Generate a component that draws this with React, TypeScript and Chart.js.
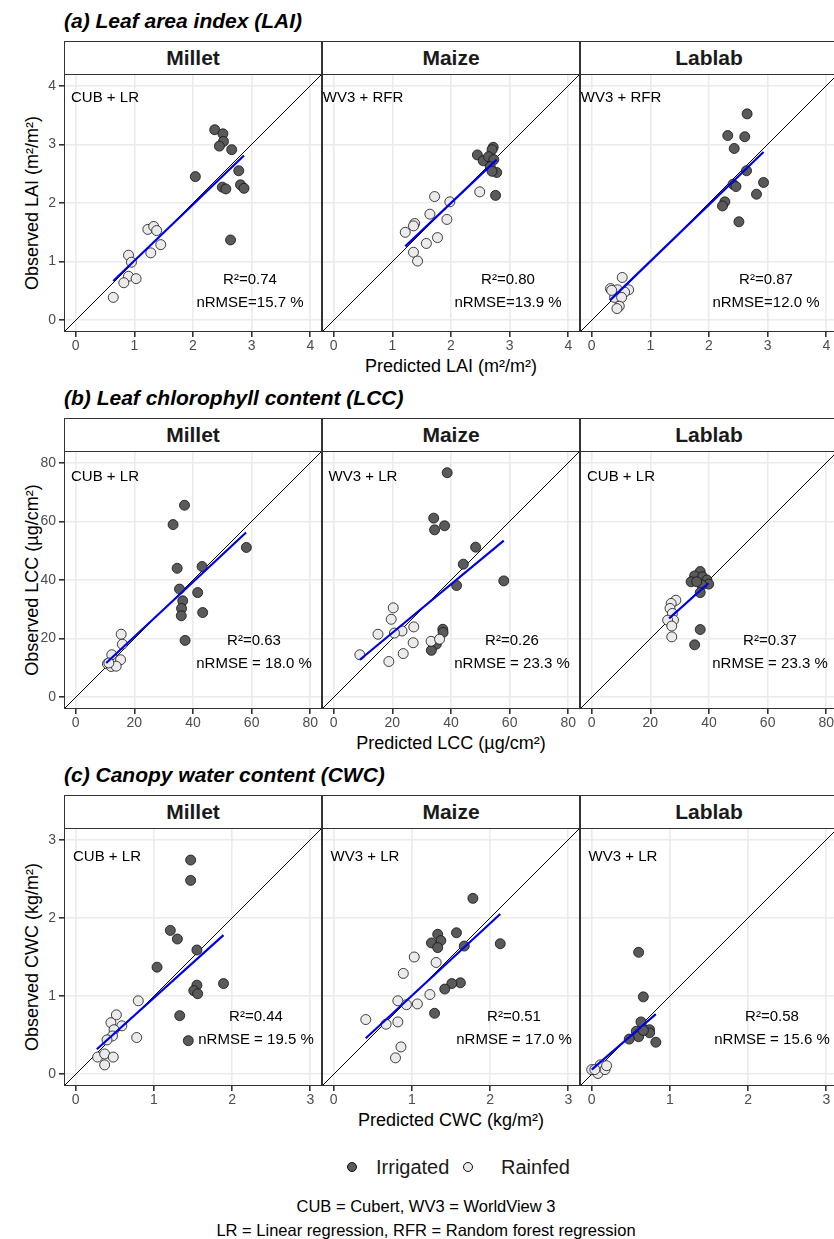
import React, { useEffect, useRef } from "react";
import { Chart, registerables } from "chart.js";

Chart.register(...registerables);

// ---------- labels ----------
const crops = ["Millet", "Maize", "Lablab"];
const rowTitles = [
  "(a) Leaf area index (LAI)",
  "(b) Leaf chlorophyll content (LCC)",
  "(c) Canopy water content (CWC)",
];
const xTitles = ["Predicted LAI (m²/m²)", "Predicted LCC (µg/cm²)", "Predicted CWC (kg/m²)"];
const yTitles = ["Observed LAI (m²/m²)", "Observed LCC (µg/cm²)", "Observed CWC (kg/m²)"];
const axisMin = [-0.2, -4, -0.15];
const axisMax = [4.2, 84, 3.15];
const tickValues = [
  [0, 1, 2, 3, 4],
  [0, 20, 40, 60, 80],
  [0, 1, 2, 3],
];
const methodLabels = [
  ["CUB + LR", "WV3 + RFR", "WV3 + RFR"],
  ["CUB + LR", "WV3 + LR", "CUB + LR"],
  ["CUB + LR", "WV3 + LR", "WV3 + LR"],
];
const r2Labels = [
  ["R²=0.74", "R²=0.80", "R²=0.87"],
  ["R²=0.63", "R²=0.26", "R²=0.37"],
  ["R²=0.44", "R²=0.51", "R²=0.58"],
];
const nrmseLabels = [
  ["nRMSE=15.7 %", "nRMSE=13.9 %", "nRMSE=12.0 %"],
  ["nRMSE = 18.0 %", "nRMSE = 23.3 %", "nRMSE = 23.3 %"],
  ["nRMSE = 19.5 %", "nRMSE = 17.0 %", "nRMSE = 15.6 %"],
];
const legendLabels = ["Irrigated", "Rainfed"];
const captionLines = [
  "CUB = Cubert, WV3 = WorldView 3",
  "LR = Linear regression, RFR = Random forest regression",
];

// ---------- data: [predicted, observed] ----------
const laiMilletIrr = [[2.37,3.25],[2.51,3.18],[2.52,3.05],[2.45,2.97],[2.66,2.91],[2.78,2.55],[2.04,2.45],[2.50,2.27],[2.56,2.24],[2.81,2.31],[2.87,2.25],[2.64,1.37]];
const laiMilletRain = [[1.23,1.55],[1.33,1.60],[1.38,1.53],[1.45,1.29],[1.28,1.15],[0.90,1.11],[0.95,0.99],[0.90,0.75],[1.03,0.71],[0.82,0.64],[0.64,0.39]];
const laiMilletFit = [[0.64,0.67],[2.87,2.81]];

const laiMaizeIrr = [[2.72,2.95],[2.70,2.91],[2.45,2.82],[2.55,2.72],[2.64,2.79],[2.73,2.74],[2.67,2.62],[2.78,2.52],[2.70,2.54],[2.76,2.13]];
const laiMaizeRain = [[2.49,2.19],[1.72,2.11],[1.98,2.02],[1.64,1.81],[1.93,1.72],[1.38,1.65],[1.36,1.61],[1.22,1.50],[1.77,1.41],[1.58,1.31],[1.36,1.16],[1.43,1.01]];
const laiMaizeFit = [[1.22,1.26],[2.78,2.74]];

const laiLablabIrr = [[2.65,3.52],[2.32,3.15],[2.61,3.13],[2.43,2.93],[2.64,2.55],[2.41,2.32],[2.46,2.28],[2.93,2.35],[2.81,2.15],[2.27,2.02],[2.23,1.95],[2.51,1.68]];
const laiLablabRain = [[0.52,0.73],[0.32,0.54],[0.44,0.52],[0.63,0.52],[0.56,0.48],[0.39,0.39],[0.51,0.39],[0.47,0.24],[0.43,0.20],[0.34,0.51]];
const laiLablabFit = [[0.31,0.34],[2.93,2.87]];

const lccMilletIrr = [[37.1,65.5],[33.2,58.9],[58.2,51.1],[34.6,44.0],[43.1,44.6],[35.4,36.9],[41.6,35.7],[36.5,32.9],[36.1,30.3],[36.0,27.8],[43.3,28.9],[37.3,19.4]];
const lccMilletRain = [[15.5,21.5],[15.9,18.1],[12.3,14.5],[15.3,12.8],[10.8,11.4],[12.1,10.5],[13.8,10.6],[11.3,11.7]];
const lccMilletFit = [[10.4,11.7],[58.1,56.2]];

const lccMaizeIrr = [[38.7,76.6],[34.1,61.1],[34.4,57.1],[37.8,58.5],[48.4,51.2],[44.2,45.4],[41.9,38.1],[58.0,39.7],[37.2,23.2],[37.3,22.1],[35.0,18.1],[33.3,16.0]];
const lccMaizeRain = [[20.3,30.5],[19.6,26.6],[27.3,24.0],[23.3,22.6],[20.7,21.9],[15.1,21.5],[27.1,18.6],[33.2,19.1],[36.1,19.8],[23.7,14.9],[8.9,14.5],[18.8,12.2]];
const lccMaizeFit = [[8.9,12.8],[58.0,53.4]];

const lccLablabIrr = [[37.0,42.9],[35.1,41.4],[37.8,41.1],[33.9,39.4],[39.3,40.0],[39.9,38.6],[37.6,38.3],[37.0,35.7],[37.0,23.1],[35.1,17.9],[35.8,39.4]];
const lccLablabRain = [[28.7,33.1],[27.1,32.0],[26.7,30.3],[27.5,28.6],[27.9,26.3],[25.9,26.3],[27.3,24.3],[27.3,20.6]];
const lccLablabFit = [[26.4,26.9],[39.8,38.9]];

const cwcMilletIrr = [[1.47,2.74],[1.47,2.48],[1.21,1.84],[1.30,1.73],[1.55,1.59],[1.04,1.37],[1.89,1.16],[1.55,1.14],[1.51,1.07],[1.56,1.03],[1.33,0.75],[1.44,0.43]];
const cwcMilletRain = [[0.80,0.94],[0.52,0.76],[0.45,0.66],[0.59,0.62],[0.49,0.57],[0.47,0.49],[0.78,0.47],[0.40,0.44],[0.28,0.22],[0.37,0.26],[0.48,0.22],[0.37,0.12]];
const cwcMilletFit = [[0.27,0.32],[1.89,1.78]];

const cwcMaizeIrr = [[1.78,2.25],[1.33,1.79],[1.57,1.81],[1.37,1.71],[1.25,1.68],[1.33,1.62],[1.67,1.64],[2.13,1.67],[1.62,1.17],[1.51,1.16],[1.42,1.09],[1.29,0.78]];
const cwcMaizeRain = [[1.03,1.50],[1.31,1.43],[0.89,1.29],[1.23,1.02],[0.82,0.94],[0.93,0.89],[1.07,0.90],[0.41,0.70],[0.67,0.64],[0.82,0.67],[0.86,0.35],[0.79,0.21]];
const cwcMaizeFit = [[0.41,0.46],[2.13,2.05]];

const cwcLablabIrr = [[0.60,1.56],[0.66,0.99],[0.63,0.67],[0.57,0.55],[0.68,0.57],[0.74,0.57],[0.74,0.53],[0.60,0.48],[0.48,0.45],[0.82,0.41],[0.66,0.56]];
const cwcLablabRain = [[0.00,0.06],[0.08,0.01],[0.11,0.12],[0.17,0.06],[0.19,0.11],[0.04,0.06]];
const cwcLablabFit = [[0.00,0.06],[0.82,0.77]];

const irrigatedData = [
  [laiMilletIrr, laiMaizeIrr, laiLablabIrr],
  [lccMilletIrr, lccMaizeIrr, lccLablabIrr],
  [cwcMilletIrr, cwcMaizeIrr, cwcLablabIrr],
];
const rainfedData = [
  [laiMilletRain, laiMaizeRain, laiLablabRain],
  [lccMilletRain, lccMaizeRain, lccLablabRain],
  [cwcMilletRain, cwcMaizeRain, cwcLablabRain],
];
const fitData = [
  [laiMilletFit, laiMaizeFit, laiLablabFit],
  [lccMilletFit, lccMaizeFit, lccLablabFit],
  [cwcMilletFit, cwcMaizeFit, cwcLablabFit],
];

// ---------- layout / style ----------
const FONT = '"Liberation Sans", Arial, Helvetica, sans-serif';
const PANEL_W = 258;
const PANEL_H = 258;
const Y_AXIS_W = 64;
const X_AXIS_H = 32;
const STRIP_H = 34;
const panelLefts = [64, 322, 580];
const panelTops = [74, 451, 828];
const methodOffset = [[41, 24], [41, 26], [43, 29]];
const statsOffset = [[186, 206, 229], [190, 190, 213], [192, 189, 212]];
const IRR_FILL = "#5A5A5A";
const RAIN_FILL = "#EBEBEB";
const FIT_COLOR = "#0000E6";
const POINT_R = 5;

const toXY = (arr: number[][]) => arr.map(([x, y]) => ({ x, y }));

function makeChart(canvas: HTMLCanvasElement, r: number, c: number) {
  const mn = axisMin[r];
  const mx = axisMax[r];
  const ticks = tickValues[r];
  const showY = c === 0;
  const decor = {
    id: "panelDecor",
    afterDraw(chart: any) {
      const { ctx, chartArea: a } = chart;
      ctx.save();
      ctx.strokeStyle = "#333333";
      ctx.lineWidth = 1;
      ctx.strokeRect(a.left + 0.5, a.top + 0.5, a.right - a.left - 1, a.bottom - a.top - 1);
      ctx.fillStyle = "#000000";
      ctx.font = `15px ${FONT}`;
      ctx.textAlign = "center";
      ctx.textBaseline = "middle";
      ctx.fillText(methodLabels[r][c], a.left + methodOffset[r][0], a.top + methodOffset[r][1]);
      ctx.fillText(r2Labels[r][c], a.left + statsOffset[r][0], a.top + statsOffset[r][1]);
      ctx.fillText(nrmseLabels[r][c], a.left + statsOffset[r][0], a.top + statsOffset[r][2]);
      ctx.restore();
    },
  };
  const zeroPad = (s: any) => {
    s.paddingTop = 0;
    s.paddingBottom = 0;
    s.paddingLeft = 0;
    s.paddingRight = 0;
  };
  return new Chart(canvas, {
    type: "scatter",
    data: {
      datasets: [
        {
          data: toXY(fitData[r][c]),
          showLine: true,
          borderColor: FIT_COLOR,
          borderWidth: 2.2,
          pointRadius: 0,
        },
        {
          data: toXY(rainfedData[r][c]),
          backgroundColor: RAIN_FILL,
          borderColor: "#111111",
          borderWidth: 0.8,
          pointRadius: POINT_R,
        },
        {
          data: toXY(irrigatedData[r][c]),
          backgroundColor: IRR_FILL,
          borderColor: "#111111",
          borderWidth: 0.8,
          pointRadius: POINT_R,
        },
        {
          data: [
            { x: mn, y: mn },
            { x: mx, y: mx },
          ],
          showLine: true,
          borderColor: "#000000",
          borderWidth: 1,
          pointRadius: 0,
        },
      ],
    } as any,
    options: {
      responsive: false,
      animation: false,
      devicePixelRatio: 1,
      events: [],
      layout: { padding: 0, autoPadding: false },
      plugins: { legend: { display: false }, tooltip: { enabled: false } },
      scales: {
        x: {
          type: "linear",
          min: mn,
          max: mx,
          afterBuildTicks: (s: any) => {
            s.ticks = ticks.map((v) => ({ value: v }));
          },
          afterFit: (s: any) => {
            s.height = X_AXIS_H;
            zeroPad(s);
          },
          border: { display: false },
          grid: { color: "#EBEBEB", lineWidth: 1.6, tickColor: "#333333", tickLength: 5, drawTicks: true },
          ticks: { color: "#4D4D4D", font: { family: FONT, size: 14 }, padding: 1, maxRotation: 0 },
        },
        y: {
          type: "linear",
          min: mn,
          max: mx,
          afterBuildTicks: (s: any) => {
            s.ticks = ticks.map((v) => ({ value: v }));
          },
          afterFit: (s: any) => {
            s.width = showY ? Y_AXIS_W : 0;
            zeroPad(s);
          },
          border: { display: false },
          grid: { color: "#EBEBEB", lineWidth: 1.6, tickColor: "#333333", tickLength: 5, drawTicks: showY },
          ticks: { display: showY, color: "#4D4D4D", font: { family: FONT, size: 14 }, padding: 3 },
        },
      },
    } as any,
    plugins: [decor],
  });
}

export default function App() {
  const refs = useRef<(HTMLCanvasElement | null)[]>([]);

  useEffect(() => {
    document.body.style.margin = "0";
    const charts: Chart[] = [];
    for (let r = 0; r < 3; r++) {
      for (let c = 0; c < 3; c++) {
        const cv = refs.current[r * 3 + c];
        if (cv) charts.push(makeChart(cv, r, c));
      }
    }
    return () => charts.forEach((ch) => ch.destroy());
  }, []);

  const items: React.ReactNode[] = [];
  for (let r = 0; r < 3; r++) {
    const top = panelTops[r];
    items.push(
      <div
        key={`title${r}`}
        style={{
          position: "absolute",
          left: 64,
          top: top - STRIP_H - 31,
          lineHeight: "24px",
          fontSize: 21,
          fontWeight: "bold",
          fontStyle: "italic",
          color: "#000",
          whiteSpace: "nowrap",
        }}
      >
        {rowTitles[r]}
      </div>
    );
    items.push(
      <div
        key={`ytitle${r}`}
        style={{
          position: "absolute",
          left: 32,
          top: top + PANEL_H / 2,
          transform: "translate(-50%, -50%) rotate(-90deg)",
          fontSize: 18,
          color: "#000",
          whiteSpace: "nowrap",
          lineHeight: "20px",
        }}
      >
        {yTitles[r]}
      </div>
    );
    items.push(
      <div
        key={`xtitle${r}`}
        style={{
          position: "absolute",
          left: 451,
          top: top + PANEL_H + 34,
          transform: "translate(-50%, -50%)",
          fontSize: 18,
          color: "#000",
          whiteSpace: "nowrap",
          lineHeight: "20px",
        }}
      >
        {xTitles[r]}
      </div>
    );
    for (let c = 0; c < 3; c++) {
      const left = panelLefts[c];
      items.push(
        <div
          key={`strip${r}${c}`}
          style={{
            position: "absolute",
            left,
            top: top - STRIP_H + 1,
            width: PANEL_W,
            height: STRIP_H,
            boxSizing: "border-box",
            border: "1px solid #333",
            background: "#fff",
            fontSize: 21,
            fontWeight: "bold",
            color: "#1A1A1A",
            textAlign: "center",
            lineHeight: `${STRIP_H - 2}px`,
          }}
        >
          {crops[c]}
        </div>
      );
      const cw = c === 0 ? Y_AXIS_W + PANEL_W : PANEL_W;
      const ch = PANEL_H + X_AXIS_H;
      items.push(
        <canvas
          key={`cv${r}${c}`}
          ref={(el) => {
            refs.current[r * 3 + c] = el;
          }}
          width={cw}
          height={ch}
          style={{
            position: "absolute",
            left: c === 0 ? 0 : left,
            top,
            width: cw,
            height: ch,
            display: "block",
          }}
        />
      );
    }
  }

  const dot = (fill: string): React.CSSProperties => ({
    display: "inline-block",
    width: 10,
    height: 10,
    borderRadius: "50%",
    background: fill,
    border: "1px solid #111",
    boxSizing: "border-box",
  });

  return (
    <div
      style={{
        position: "absolute",
        left: 0,
        top: 0,
        width: 834,
        height: 1239,
        overflow: "hidden",
        background: "#fff",
        fontFamily: FONT,
      }}
    >
      {items}
      <div style={{ position: "absolute", left: 347, top: 1162, ...dot(IRR_FILL) }} />
      <div style={{ position: "absolute", left: 376, top: 1155, fontSize: 20, lineHeight: "24px", color: "#1A1A1A" }}>
        {legendLabels[0]}
      </div>
      <div style={{ position: "absolute", left: 463, top: 1162, ...dot(RAIN_FILL) }} />
      <div style={{ position: "absolute", left: 501, top: 1155, fontSize: 20, lineHeight: "24px", color: "#1A1A1A" }}>
        {legendLabels[1]}
      </div>
      {captionLines.map((t, i) => (
        <div
          key={`cap${i}`}
          style={{
            position: "absolute",
            left: 426,
            top: 1206 + i * 24,
            transform: "translate(-50%, -50%)",
            fontSize: 16.5,
            lineHeight: "20px",
            color: "#000",
            whiteSpace: "nowrap",
          }}
        >
          {t}
        </div>
      ))}
    </div>
  );
}
